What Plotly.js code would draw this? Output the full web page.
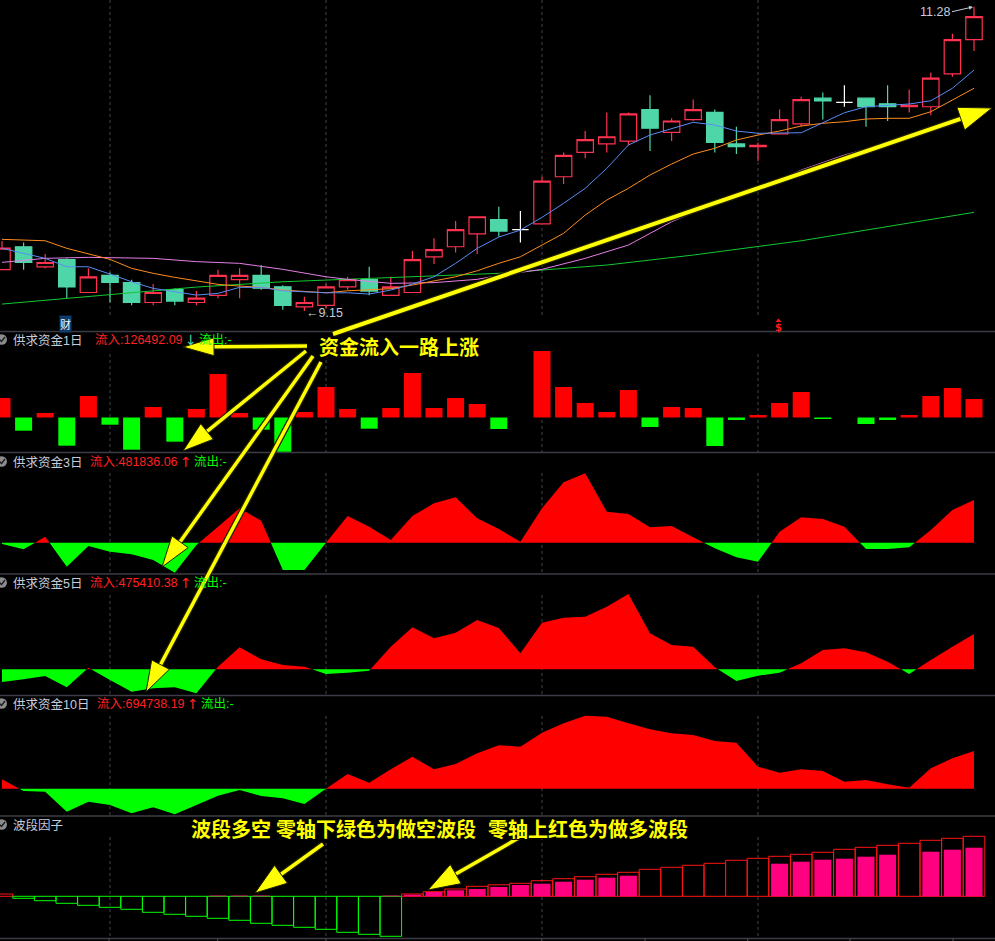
<!DOCTYPE html>
<html><head><meta charset="utf-8">
<script src="https://cdn.plot.ly/plotly-3.0.1.min.js"></script>
<style>html,body{margin:0;padding:0;background:#000;}#chart{width:995px;height:941px;}</style>
</head><body><div id="chart"></div>
<script>
const W = 995, H = 941;

// ---------- price data (46 sessions) ----------
const open  = [9.44,9.60,9.46,9.51,9.28,9.40,9.35,9.21,9.30,9.21,9.26,9.37,9.40,9.32,9.18,9.19,9.32,9.37,9.26,9.28,9.53,9.60,9.69,9.79,9.72,9.76,10.09,10.26,10.32,10.34,10.56,10.40,10.49,10.54,10.32,10.30,10.39,10.46,10.64,10.61,10.64,10.60,10.58,10.58,10.81,11.05];
const high  = [9.64,9.63,9.55,9.52,9.45,9.42,9.37,9.34,9.31,9.29,9.44,9.45,9.47,9.33,9.25,9.34,9.39,9.46,9.39,9.57,9.66,9.78,9.81,9.88,9.85,10.09,10.26,10.41,10.54,10.54,10.66,10.50,10.63,10.56,10.44,10.33,10.56,10.65,10.68,10.73,10.64,10.73,10.70,10.82,11.09,11.28];
const low   = [9.44,9.44,9.45,9.24,9.28,9.21,9.19,9.19,9.19,9.19,9.24,9.24,9.30,9.16,9.15,9.17,9.30,9.26,9.26,9.28,9.48,9.56,9.55,9.67,9.63,9.76,10.04,10.22,10.26,10.31,10.27,10.34,10.48,10.26,10.25,10.20,10.39,10.44,10.49,10.58,10.44,10.48,10.54,10.52,10.79,10.97];
const close = [9.59,9.49,9.49,9.32,9.39,9.35,9.21,9.28,9.22,9.24,9.40,9.40,9.31,9.19,9.21,9.32,9.37,9.29,9.32,9.51,9.58,9.72,9.81,9.71,9.72,10.06,10.24,10.35,10.37,10.53,10.43,10.48,10.56,10.33,10.30,10.31,10.49,10.63,10.62,10.61,10.58,10.58,10.59,10.78,11.05,11.21];

// moving-average lines
const ma5  = [9.589,9.556,9.519,9.460,9.460,9.409,9.355,9.309,9.285,9.262,9.274,9.316,9.316,9.292,9.285,9.278,9.278,9.269,9.297,9.339,9.390,9.484,9.589,9.668,9.717,9.806,9.904,10.009,10.149,10.312,10.382,10.429,10.471,10.452,10.410,10.394,10.398,10.398,10.468,10.538,10.580,10.592,10.599,10.622,10.709,10.837];
const ma10 = [9.652,9.647,9.642,9.589,9.549,9.512,9.449,9.414,9.386,9.360,9.337,9.325,9.316,9.297,9.285,9.278,9.292,9.297,9.306,9.332,9.360,9.390,9.432,9.484,9.530,9.612,9.694,9.822,9.927,10.009,10.102,10.179,10.249,10.289,10.347,10.382,10.410,10.445,10.464,10.475,10.494,10.499,10.499,10.545,10.627,10.709];
const ma20x = [0,1,2,4,7,9,11,13,15,16,18,20,22,23,25,27,29,31,33,35,37,39,41,43,45];
const ma20  = [9.491,9.507,9.519,9.526,9.519,9.496,9.484,9.442,9.390,9.372,9.344,9.349,9.372,9.399,9.442,9.519,9.612,9.775,9.904,9.997,10.137,10.242,10.324,10.422,10.515];
const ma60x = [0,5,9,13,18,23,28,32,37,41,45];
const ma60  = [9.199,9.266,9.318,9.355,9.383,9.414,9.472,9.542,9.642,9.740,9.841];

// ---------- indicator panels ----------
const flow1  = [133300,-90250,30770,-192800,147000,-49230,-220150,71790,-165450,58110,297400,30770,-83410,-233830,37600,208530,58110,-76570,64950,304250,64950,133320,92300,-78630,0,454660,208530,99140,37600,188020,-64950,71790,64950,-194850,-17090,17090,99140,174340,-10260,0,-44440,-17090,17090,147000,201690,126492.09];
const flow3  = [-14670,-74470,67700,-270800,-37240,-101560,-130890,-195210,-338520,-25950,180540,388170,248250,-308050,-308050,0,301280,180540,30470,301280,444590,512290,275330,154590,11280,388170,681550,783110,349800,323850,173770,188440,60930,-63190,-164750,-214400,124120,286610,267430,180540,-71090,-71090,-51910,143310,368990,481836.06];
const flow5  = [-171040,-134680,-90240,-242420,20200,-144110,-301680,-255890,-242420,-323230,35020,296300,134680,57910,35020,-63300,-45790,-18860,304380,565660,417510,492930,663970,556230,215490,627610,694950,708420,843100,1014140,484850,327270,304380,26940,-157580,-86200,-45790,80810,259930,282830,228960,102360,-63300,125250,304380,475410.38];
const flow10 = [173220,-42380,-55280,-423840,-239560,-300380,-453330,-342760,-471760,-300380,-129000,-23960,-134520,-176910,-281950,0,270890,110570,357500,589700,357500,455170,652350,801620,773980,1031970,1205190,1345240,1326820,1205190,1094620,1020910,989580,879020,847690,405420,294850,357500,326180,129000,160320,81080,18430,375930,560210,694738.19];
const wave     = [0.23,-0.2,-0.44,-0.7,-0.9,-1.1,-1.3,-1.6,-1.8,-2.0,-2.2,-2.4,-2.7,-2.9,-3.1,-3.3,-3.6,-3.8,-4.0,0.23,0.46,0.73,1.0,1.15,1.3,1.56,1.76,1.96,2.2,2.4,2.7,2.9,3.1,3.3,3.6,3.8,4.0,4.2,4.4,4.7,4.9,5.1,5.3,5.6,5.8,6.0];
const waveFill = [0,0,0,0,0,0,0,0,0,0,0.08,0.08,0.08,0,0,0,0,0,0.08,0.16,0.43,0.6,0.73,0.93,1.13,1.26,1.46,1.66,1.86,2.06,0,0,0,0,0,0,3.26,3.46,3.66,3.76,3.96,4.16,0,4.46,4.66,4.86];

const panelNames = ['供求资金1日','供求资金3日','供求资金5日','供求资金10日','波段因子'];
const noteMain = '资金流入一路上涨';
const noteWave = ['波段多空','零轴下绿色为做空波段','零轴上红色为做多波段'];

// ---------- helpers ----------
const px = x => x / W;
const py = y => 1 - y / H;
const dom = (top, bot) => [1 - bot / H, 1 - top / H];
const rng = (top, bot, refPx, refVal, perPx) => [refVal - (bot - refPx) * perPx, refVal + (refPx - top) * perPx];

const RED = '#ff0000', GRN = '#00ff00';
const traces = [];

function pick(cond) {
  const o = {x: [], open: [], high: [], low: [], close: []};
  for (let i = 0; i < open.length; i++) if (cond(i)) {
    o.x.push(i); o.open.push(open[i]); o.high.push(high[i]); o.low.push(low[i]); o.close.push(close[i]);
  }
  return o;
}
function candle(d, lc, fc) {
  return Object.assign({type: 'candlestick', xaxis: 'x', yaxis: 'y', whiskerwidth: 0, hoverinfo: 'skip',
    increasing: {line: {color: lc, width: 1.2}, fillcolor: fc},
    decreasing: {line: {color: lc, width: 1.2}, fillcolor: fc}}, d);
}
traces.push(candle(pick(i => close[i] > open[i]), '#ff3250', '#000000'));
traces.push(candle(pick(i => close[i] < open[i]), '#4fd6a8', '#4fd6a8'));
traces.push(candle(pick(i => close[i] === open[i]), '#ffffff', '#ffffff'));

const idx = open.map((_, i) => i);
function line(x, y, c) { return {type: 'scatter', mode: 'lines', x, y, line: {color: c, width: 1}, yaxis: 'y', hoverinfo: 'skip'}; }
traces.push(line(ma60x, ma60, '#12c832'));
traces.push(line(ma20x, ma20, '#e67de6'));
traces.push(line(idx, ma10, '#ff8c1e'));
traces.push(line(idx, ma5, '#5a8cf5'));

// panel 2 bars
traces.push({type: 'bar', x: idx, y: flow1, width: 0.787, yaxis: 'y2', hoverinfo: 'skip',
  marker: {color: flow1.map(v => v >= 0 ? RED : GRN), line: {width: 0}}});

// area panels
function splitSigned(vals) {
  const a = {px: [], py: [], nx: [], ny: []};
  for (let i = 0; i < vals.length; i++) {
    const v = vals[i];
    if (i > 0) {
      const p = vals[i - 1];
      if ((p > 0 && v < 0) || (p < 0 && v > 0)) {
        const xc = i - 1 + p / (p - v);
        a.px.push(xc); a.py.push(0); a.nx.push(xc); a.ny.push(0);
      }
    }
    a.px.push(i); a.py.push(Math.max(v, 0)); a.nx.push(i); a.ny.push(Math.min(v, 0));
  }
  return a;
}
[[flow3, 'y3'], [flow5, 'y4'], [flow10, 'y5']].forEach(([vals, ax]) => {
  const s = splitSigned(vals);
  traces.push({type: 'scatter', mode: 'none', x: s.px, y: s.py, fill: 'tozeroy', fillcolor: '#ff0000', yaxis: ax, hoverinfo: 'skip'});
  traces.push({type: 'scatter', mode: 'none', x: s.nx, y: s.ny, fill: 'tozeroy', fillcolor: '#00ff00', yaxis: ax, hoverinfo: 'skip'});
});

// panel 6
traces.push({type: 'bar', x: idx, y: wave, width: 1.0, yaxis: 'y6', hoverinfo: 'skip',
  marker: {color: 'rgba(0,0,0,0)', line: {color: wave.map(v => v >= 0 ? '#ff1414' : GRN), width: 1}}});
traces.push({type: 'bar', x: idx, y: waveFill, width: 0.787, yaxis: 'y6', hoverinfo: 'skip',
  marker: {color: '#ff0080', line: {width: 0}}});

// ---------- shapes ----------
const shapes = [];
[331.5, 452.5, 574, 695.5, 816, 938.5].forEach(y => shapes.push({type: 'line', xref: 'paper', yref: 'paper',
  x0: 0, x1: 1, y0: py(y), y1: py(y), line: {color: '#3c3c46', width: 1.5}, layer: 'below'}));
const gridSpans = [[0, 318], [354, 452], [473, 573], [595, 695], [716, 815], [837, 938]];
[5, 15, 25, 35].forEach(g => gridSpans.forEach(([a, b]) => shapes.push({type: 'line', xref: 'x', yref: 'paper',
  x0: g, x1: g, y0: py(a), y1: py(b), line: {color: '#444448', width: 1, dash: 'dot'}, layer: 'below'})));
[109, 217.7, 326, 541.7, 645, 747.7, 850, 953].forEach(x => shapes.push({type: 'line', xref: 'paper', yref: 'paper',
  x0: px(x), x1: px(x), y0: py(938.5), y1: py(941), line: {color: '#50505a', width: 1}}));

function arrow(tx, ty, hx, hy, L, hw, lw) {
  const dx = hx - tx, dy = hy - ty, len = Math.hypot(dx, dy), ux = dx / len, uy = dy / len;
  const bx = hx - ux * L, by = hy - uy * L, nx = -uy, ny = ux;
  shapes.push({type: 'line', xref: 'paper', yref: 'paper', x0: px(tx), y0: py(ty), x1: px(bx + ux * 2), y1: py(by + uy * 2),
    line: {color: '#202000', width: lw + 2.5}});
  shapes.push({type: 'line', xref: 'paper', yref: 'paper', x0: px(tx), y0: py(ty), x1: px(bx + ux * 2), y1: py(by + uy * 2),
    line: {color: '#ffff00', width: lw}});
  const p = `M ${px(hx)} ${py(hy)} L ${px(bx + nx * hw)} ${py(by + ny * hw)} L ${px(bx - nx * hw)} ${py(by - ny * hw)} Z`;
  shapes.push({type: 'path', xref: 'paper', yref: 'paper', path: p, fillcolor: '#ffff00', line: {color: '#202000', width: 1}});
}
arrow(333, 334, 992, 108, 33, 12, 4);
arrow(307, 346, 183, 347, 31, 9, 3.5);
arrow(306, 351, 183, 451, 31, 10, 3.5);
arrow(313, 356, 162, 567, 31, 10, 3.5);
arrow(321, 362, 146, 692, 31, 10, 3.5);
arrow(323, 844, 255, 893, 32, 11, 3.5);
arrow(522, 836, 428, 890, 32, 11, 3.5);

// header icons
[339.5, 461.5, 582.5, 703.5, 824.5].forEach(y => {
  shapes.push({type: 'circle', xref: 'paper', yref: 'paper', x0: px(-3.5), x1: px(7), y0: py(y + 5.2), y1: py(y - 5.2),
    fillcolor: '#8c8c8c', line: {width: 0}});
  shapes.push({type: 'path', xref: 'paper', yref: 'paper',
    path: `M ${px(-0.5)} ${py(y)} L ${px(1.5)} ${py(y + 2)} L ${px(5)} ${py(y - 2.5)}`, line: {color: '#1a1a1a', width: 1.3}});
});
// small marker triangle above the $ sign
shapes.push({type: 'path', xref: 'paper', yref: 'paper',
  path: `M ${px(775.5)} ${py(322)} L ${px(778.5)} ${py(318.5)} L ${px(781.5)} ${py(322)} Z`, fillcolor: '#ff1a1a', line: {width: 0}});

// ---------- annotations ----------
const ann = [];
const FONT = 'Liberation Sans, Noto Sans CJK SC, sans-serif';
function txt(x, y, t, color, size, extra) {
  ann.push(Object.assign({xref: 'paper', yref: 'paper', x: px(x), y: py(y), text: t, showarrow: false,
    xanchor: 'left', yanchor: 'middle', font: {family: FONT, size: size || 12, color}}, extra || {}));
}
const LBL = '#c4ccdc';
const heads = [
  {y: 340, name: panelNames[0], val: flow1[45], vx: 92.7, ar: '↓', arc: '#4fd6a8', ax: 182.5, ox: 196.7},
  {y: 462, name: panelNames[1], val: flow3[45], vx: 88.3, ar: '↑', arc: '#ff2020', ax: 178, ox: 191.7},
  {y: 583, name: panelNames[2], val: flow5[45], vx: 88.3, ar: '↑', arc: '#ff2020', ax: 178, ox: 191.7},
  {y: 704, name: panelNames[3], val: flow10[45], vx: 95, ar: '↑', arc: '#ff2020', ax: 185, ox: 199.3}
];
heads.forEach(h => {
  txt(11, h.y, h.name, LBL, 12.5);
  txt(h.vx, h.y, '流入:' + h.val.toFixed(2), '#ff2020', 12.5);
  txt(h.ax, h.y, h.ar, h.arc, 15, {font: {family: 'DejaVu Sans', size: 14, color: h.arc}});
  txt(h.ox, h.y, '流出:-', '#00ff00', 12.5);
});
txt(11, 825, panelNames[4], LBL, 12.5);

// price extremes
const hi = Math.max(...high), lo = Math.min(...low);
ann.push({xref: 'x', yref: 'y', x: high.indexOf(hi), y: hi, text: hi.toFixed(2), showarrow: true,
  ax: -22, ay: 5, xanchor: 'right', yanchor: 'middle', arrowhead: 2, arrowsize: 0.8, arrowwidth: 1,
  arrowcolor: LBL, standoff: 1, font: {family: FONT, size: 12.5, color: LBL}});
txt(304, 313, '←' + lo.toFixed(2), LBL, 12.5);
ann.push({xref: 'paper', yref: 'paper', x: px(65.5), y: py(323.5), text: '财', showarrow: false,
  xanchor: 'center', yanchor: 'middle', bgcolor: '#0e3a6c', borderpad: 0,
  font: {family: 'Noto Sans CJK SC', size: 11, color: '#ffffff'}});
ann.push({xref: 'paper', yref: 'paper', x: px(778.5), y: py(327), text: '$', showarrow: false,
  xanchor: 'center', yanchor: 'middle', font: {family: 'DejaVu Sans', size: 10, color: '#ff1a1a', weight: 700}});

const YF = {family: 'Noto Sans CJK SC', size: 20, color: '#ffff00', weight: 700,
  shadow: '1px 1px 0 #000, -1px 1px 0 #000, 1px -1px 0 #000, -1px -1px 0 #000'};
function ytxt(x, y, t) {
  ann.push({xref: 'paper', yref: 'paper', x: px(x), y: py(y), text: t, showarrow: false,
    xanchor: 'left', yanchor: 'middle', font: YF});
}
ytxt(317, 346, noteMain);
ytxt(189, 828.5, noteWave[0]);
ytxt(274, 828.5, noteWave[1]);
ytxt(486, 828.5, noteWave[2]);

// ---------- layout ----------
const yax = (d, r) => ({domain: d, range: r, visible: false, fixedrange: true, anchor: 'x'});
const layout = {
  width: W, height: H, margin: {l: 0, r: 0, t: 0, b: 0},
  paper_bgcolor: '#000000', plot_bgcolor: '#000000', showlegend: false,
  barmode: 'overlay', boxgap: 0, boxgroupgap: 0.24,
  font: {family: FONT, color: LBL},
  xaxis: {range: [-2 / 21.6, 993 / 21.6], visible: false, fixedrange: true, rangeslider: {visible: false}},
  yaxis:  yax(dom(0, 331),   rng(0, 331, 6.7, 11.28, 1 / 142.9)),
  yaxis2: yax(dom(332, 452), rng(332, 452, 417.5, 0, 6837)),
  yaxis3: yax(dom(453, 574), rng(453, 574, 542.7, 0, 11284)),
  yaxis4: yax(dom(575, 695), rng(575, 695, 669.3, 0, 13468)),
  yaxis5: yax(dom(696, 816), rng(696, 816, 788.7, 0, 18428)),
  yaxis6: yax(dom(817, 938), rng(817, 938, 896.3, 0, 0.1)),
  shapes, annotations: ann
};
Plotly.newPlot('chart', traces, layout, {displayModeBar: false, staticPlot: true});
</script></body></html>
